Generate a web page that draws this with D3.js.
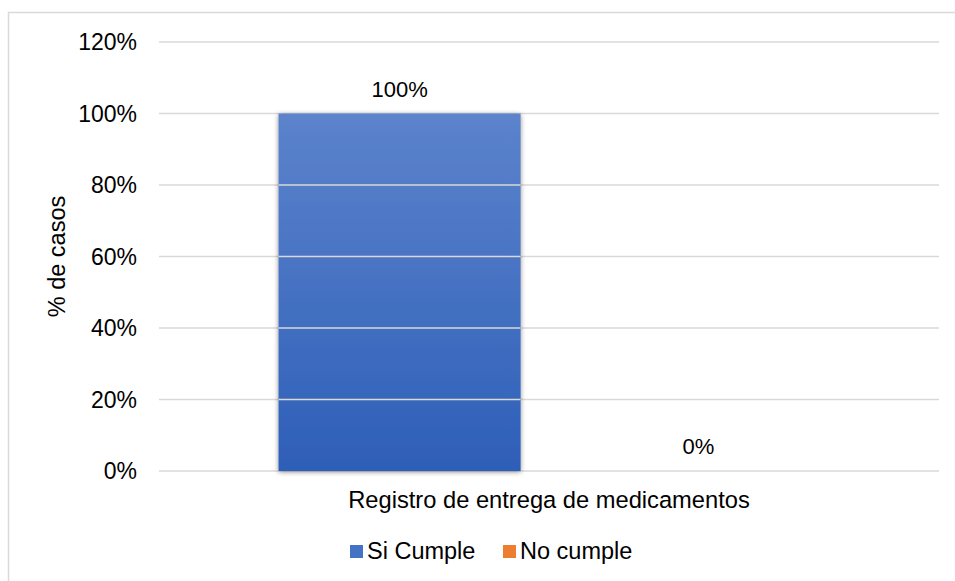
<!DOCTYPE html>
<html>
<head>
<meta charset="utf-8">
<script src="https://cdn.jsdelivr.net/npm/d3@7"></script>
<style>
  body { margin: 0; background: #fff; }
  svg { font-family: "Liberation Sans", Arial, sans-serif; }
</style>
</head>
<body>
<script>
var categories = ["Registro de entrega de medicamentos"];
var seriesNames = ["Si Cumple", "No cumple"];
var siCumple = [1.0];
var noCumple = [0.0];
var yTicks = [0, 0.2, 0.4, 0.6, 0.8, 1.0, 1.2];

var width = 955, height = 581;
var margin = { top: 42, right: 16, bottom: 110, left: 159 };

var svg = d3.select("body").append("svg")
    .attr("width", width)
    .attr("height", height);

var defs = svg.append("defs");
var grad = defs.append("linearGradient")
    .attr("id", "blueGrad")
    .attr("x1", 0).attr("y1", 0).attr("x2", 0).attr("y2", 1);
grad.append("stop").attr("offset", "0%").attr("stop-color", "#5c83cc");
grad.append("stop").attr("offset", "100%").attr("stop-color", "#2e5fb8");

var shadow = defs.append("filter").attr("id", "shadow")
    .attr("x", "-10%").attr("y", "-10%").attr("width", "120%").attr("height", "120%");
shadow.append("feDropShadow")
    .attr("dx", 0).attr("dy", 1).attr("stdDeviation", 2.5)
    .attr("flood-color", "#000").attr("flood-opacity", 0.45);

// chart border (only top/left visible in the reference)
svg.append("rect")
    .attr("x", 8.5).attr("y", 12.5)
    .attr("width", 1000).attr("height", 1000)
    .attr("fill", "none")
    .attr("stroke", "#d9d9d9")
    .attr("stroke-width", 1.5);

var x0 = d3.scaleBand()
    .domain(categories)
    .range([margin.left, 939]);

var x1 = d3.scaleBand()
    .domain(seriesNames)
    .range([0, x0.bandwidth()])
    .paddingInner(0.19)
    .paddingOuter(0.4);

var y = d3.scaleLinear()
    .domain([0, 1.2])
    .range([471, margin.top]);

var pct = d3.format(".0%");

// gridlines
svg.append("g")
    .selectAll("line")
    .data(yTicks)
    .join("line")
    .attr("x1", margin.left).attr("x2", 939)
    .attr("y1", d => y(d)).attr("y2", d => y(d))
    .attr("stroke", "#d9d9d9")
    .attr("stroke-width", 1.5);

// y tick labels
svg.append("g")
    .selectAll("text")
    .data(yTicks)
    .join("text")
    .attr("x", 137)
    .attr("y", d => y(d))
    .attr("dy", "0.35em")
    .attr("text-anchor", "end")
    .attr("font-size", 23)
    .attr("fill", "#000")
    .text(d => pct(d));

// bars
var rows = categories.map((c, i) => ({
    cat: c,
    vals: [
        { name: seriesNames[0], v: siCumple[i], fill: "url(#blueGrad)" },
        { name: seriesNames[1], v: noCumple[i], fill: "#ed7d31" }
    ]
}));

var groups = svg.append("g")
    .selectAll("g")
    .data(rows)
    .join("g")
    .attr("transform", d => "translate(" + x0(d.cat) + ",0)");

groups.selectAll("rect")
    .data(d => d.vals)
    .join("rect")
    .attr("x", d => x1(d.name))
    .attr("width", x1.bandwidth())
    .attr("y", d => y(d.v))
    .attr("height", d => y(0) - y(d.v))
    .attr("fill", d => d.fill)
    .attr("filter", d => d.v > 0 ? "url(#shadow)" : null);

// gridlines drawn across the bar
groups.selectAll("line.over")
    .data(d => yTicks.filter(t => t > 0 && t < d.vals[0].v))
    .join("line")
    .attr("class", "over")
    .attr("x1", x1(seriesNames[0]))
    .attr("x2", x1(seriesNames[0]) + x1.bandwidth())
    .attr("y1", d => y(d)).attr("y2", d => y(d))
    .attr("stroke", "#d9d9d9")
    .attr("stroke-width", 1.5);

// data labels
groups.selectAll("text.lbl")
    .data(d => d.vals)
    .join("text")
    .attr("class", "lbl")
    .attr("x", d => x1(d.name) + x1.bandwidth() / 2)
    .attr("y", d => y(d.v) - 17)
    .attr("text-anchor", "middle")
    .attr("font-size", 22)
    .attr("fill", "#000")
    .text(d => pct(d.v));

// category label
svg.append("g")
    .selectAll("text")
    .data(categories)
    .join("text")
    .attr("x", d => x0(d) + x0.bandwidth() / 2)
    .attr("y", 508)
    .attr("text-anchor", "middle")
    .attr("font-size", 23.7)
    .attr("fill", "#000")
    .text(d => d);

// y axis title
svg.append("text")
    .attr("transform", "translate(65," + (y(0.6)) + ") rotate(-90)")
    .attr("text-anchor", "middle")
    .attr("font-size", 23.5)
    .attr("fill", "#000")
    .text("% de casos");

// legend
var legendColors = ["#4472c4", "#ed7d31"];
var legendX = [350, 503];
var legend = svg.append("g")
    .selectAll("g")
    .data(seriesNames)
    .join("g")
    .attr("transform", (d, i) => "translate(" + legendX[i] + ",545)");
legend.append("rect")
    .attr("width", 13).attr("height", 13)
    .attr("fill", (d, i) => legendColors[i]);
legend.append("text")
    .attr("x", 17)
    .attr("y", 14)
    .attr("font-size", 23.5)
    .attr("fill", "#000")
    .text(d => d);
</script>
</body>
</html>
